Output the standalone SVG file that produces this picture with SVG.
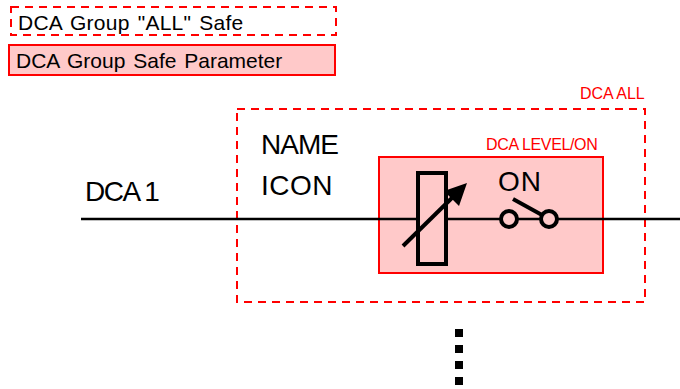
<svg xmlns="http://www.w3.org/2000/svg" width="680" height="389" viewBox="0 0 680 389">
  <style>
    text { font-family: "Liberation Sans", Arial, sans-serif; fill: #000; }
    .dash { fill: none; stroke: #f00; stroke-width: 2; stroke-dasharray: 8 6; }
    .solid { fill: #ffc9c9; stroke: #f00; stroke-width: 2; }
    .red { fill: #f00; font-size: 16px; letter-spacing: -0.35px; }
    .leg { font-size: 21px; letter-spacing: 0.1px; word-spacing: 2px; }
    .big { font-size: 28px; letter-spacing: -1px; }
    .sym { fill: #ffc9c9; stroke: #000; stroke-width: 4; }
  </style>
  <rect width="680" height="389" fill="#fff"/>
  <g id="legend-all">
    <rect class="dash" x="11" y="7" width="325" height="28"/>
    <text class="leg" x="18" y="30" style="letter-spacing:0.25px">DCA Group "ALL" Safe</text>
  </g>
  <g id="legend-param">
    <rect class="solid" x="9" y="45" width="326" height="30"/>
    <text class="leg" x="16" y="68" style="letter-spacing:0">DCA Group Safe Parameter</text>
  </g>
  <g id="dca-all">
    <rect class="dash" x="237" y="109" width="408" height="193"/>
    <text class="red" x="580" y="99" style="letter-spacing:-0.05px">DCA ALL</text>
    <text class="big" x="261" y="154">NAME</text>
    <text class="big" x="261" y="195" style="letter-spacing:0.5px">ICON</text>
  </g>
  <g id="dca-level">
    <rect class="solid" x="379" y="157" width="224" height="116"/>
    <text class="red" x="486" y="150">DCA LEVEL/ON</text>
  </g>
  <g id="connectors">
    <line x1="81" y1="219" x2="680" y2="219" stroke="#000" stroke-width="2.5"/>
    <line x1="459" y1="329" x2="459" y2="385" stroke="#000" stroke-width="8" stroke-dasharray="8 8"/>
  </g>
  <g id="dca-1">
    <text class="big" x="85" y="201" style="letter-spacing:-1.5px;word-spacing:0">DCA 1</text>
  </g>
  <g id="fader">
    <rect class="sym" x="418" y="173" width="28" height="91"/>
    <line x1="403" y1="246" x2="458" y2="192" stroke="#000" stroke-width="4"/>
    <polygon points="467,183 444,191 459,206" fill="#000"/>
  </g>
  <g id="switch">
    <text class="big" x="498" y="191" style="letter-spacing:1px">ON</text>
    <circle class="sym" cx="509" cy="219" r="8"/>
    <circle class="sym" cx="549" cy="219" r="8"/>
    <line x1="513" y1="199" x2="542" y2="215" stroke="#000" stroke-width="4"/>
  </g>
</svg>
